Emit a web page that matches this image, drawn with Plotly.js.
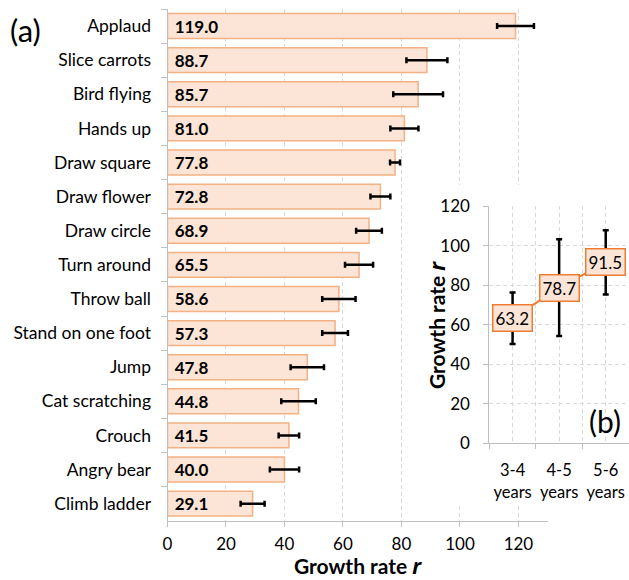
<!DOCTYPE html>
<html>
<head>
<meta charset="utf-8">
<script src="https://cdn.plot.ly/plotly-3.0.1.min.js"></script>
<style>
html,body{margin:0;padding:0;background:#fff;}
#chart{width:629px;height:580px;}
</style>
</head>
<body>
<div id="chart"></div>
<script>
// ---- data (panel a) ----
const tasks = ['Applaud','Slice carrots','Bird flying','Hands up','Draw square','Draw flower','Draw circle','Turn around','Throw ball','Stand on one foot','Jump','Cat scratching','Crouch','Angry bear','Climb ladder'];
const taskRates = [119.0, 88.7, 85.7, 81.0, 77.8, 72.8, 68.9, 65.5, 58.6, 57.3, 47.8, 44.8, 41.5, 40.0, 29.1];
const taskErrors = [6.3, 7.0, 8.5, 4.8, 1.7, 3.4, 4.4, 4.8, 5.7, 4.4, 5.7, 5.9, 3.5, 5.0, 4.1];
const mainTicks = [0, 20, 40, 60, 80, 100, 120];

// ---- data (panel b) ----
const ageGroups = ['3-4<br>years', '4-5<br>years', '5-6<br>years'];
const ageRates = [63.2, 78.7, 91.5];
const ageErrors = [13.0, 24.5, 16.3];
const insetTicks = [0, 20, 40, 60, 80, 100, 120];

const W = 629, H = 580;
const px = v => v / W;
const py = v => (H - v) / H;

const FONT = 'Lato, "Open Sans", sans-serif';
const GRID = '#d9d9d9';
const AXIS = '#bfbfbf';
const ageIdx = ageGroups.map((_, i) => i);
const TITLE = '<b>Growth rate <span style="font-family:\'Open Sans\';font-style:italic">r</span></b>';

const traces = [
  {
    type: 'bar', orientation: 'h',
    x: taskRates, y: tasks,
    width: 0.73,
    marker: {color: '#FCE4D6', line: {color: '#F4B183', width: 1.5}},
    texttemplate: '\u00a0%{x:.1f}',
    textposition: 'inside', insidetextanchor: 'start', textangle: 0,
    constraintext: 'none',
    insidetextfont: {family: FONT, size: 17, color: '#000', weight: 'bold'},
    error_x: {type: 'data', array: taskErrors, visible: true, color: '#000', thickness: 2.5, width: 3},
    hoverinfo: 'skip', showlegend: false, xaxis: 'x', yaxis: 'y'
  },
  {
    type: 'scatter', mode: 'none', x: [0.5], y: [0.5],
    xaxis: 'x2', yaxis: 'y2', hoverinfo: 'skip', showlegend: false
  },
  {
    type: 'scatter', mode: 'lines',
    x: ageIdx, y: ageRates,
    line: {color: '#ED7D31', width: 2},
    error_y: {type: 'data', array: ageErrors, visible: true, color: '#000', thickness: 2.5, width: 3},
    xaxis: 'x3', yaxis: 'y3', hoverinfo: 'skip', showlegend: false
  }
];

const annotations = ageRates.map((v, i) => ({
  xref: 'x3', yref: 'y3', x: ageIdx[i], y: v,
  text: v.toFixed(1), showarrow: false,
  bgcolor: '#FCE4D6', bordercolor: '#ED7D31', borderwidth: 1.5, borderpad: 2,
  font: {family: FONT, size: 17, color: '#000'}
}));
annotations.push({xref: 'paper', yref: 'paper', x: px(26), y: py(30), text: '(a)', showarrow: false,
  xanchor: 'center', yanchor: 'middle', font: {family: FONT, size: 31, color: '#000'}});
annotations.push({xref: 'paper', yref: 'paper', x: px(605), y: py(421), text: '(b)', showarrow: false,
  xanchor: 'center', yanchor: 'middle', font: {family: FONT, size: 30, color: '#000'}});
annotations.push({xref: 'paper', yref: 'paper', x: px(437), y: py(325), text: TITLE, showarrow: false,
  textangle: -90, xanchor: 'center', yanchor: 'middle', font: {family: FONT, size: 21, color: '#000'}});

const layout = {
  width: W, height: H,
  margin: {l: 0, r: 0, t: 0, b: 0},
  paper_bgcolor: '#fff', plot_bgcolor: '#fff',
  font: {family: FONT, size: 16, color: '#000'},
  showlegend: false,
  xaxis: {
    domain: [px(167.5), px(547.7)], anchor: 'y',
    range: [0, 130], tickmode: 'array', tickvals: mainTicks,
    ticks: 'outside', ticklen: 5, tickcolor: AXIS,
    showline: true, linecolor: AXIS, linewidth: 1,
    showgrid: true, gridcolor: GRID, griddash: '4px,3px',
    zeroline: false, automargin: false,
    ticklabelstandoff: 3,
    tickfont: {family: FONT, size: 17, color: '#000'},
    title: {text: TITLE, font: {family: FONT, size: 21, color: '#000'}, standoff: 12}
  },
  yaxis: {
    domain: [py(520.7), py(9)], anchor: 'x',
    type: 'category', autorange: 'reversed',
    tickson: 'boundaries', ticks: 'outside', ticklen: 6, tickcolor: AXIS,
    showline: true, linecolor: AXIS, linewidth: 1,
    showgrid: false, zeroline: false, automargin: false,
    ticklabelstandoff: 12,
    tickfont: {family: FONT, size: 17.5, color: '#000'}
  },
  xaxis2: {domain: [px(410), 1], anchor: 'y2', range: [0, 1], visible: false, fixedrange: true},
  yaxis2: {domain: [py(505), py(185)], anchor: 'x2', range: [0, 1], visible: false, fixedrange: true},
  xaxis3: {
    domain: [px(489.3), 1], anchor: 'y3',
    range: [-0.5, 2.5], tickmode: 'array', tickvals: ageIdx, ticktext: ageGroups,
    ticks: '', showline: true, linecolor: AXIS, linewidth: 1,
    showgrid: true, gridcolor: GRID, griddash: '4px,3px', zeroline: false,
    minor: {tickmode: 'linear', tick0: 0.5, dtick: 1, ticks: 'outside', ticklen: 5, tickcolor: AXIS,
            showgrid: true, gridcolor: GRID, griddash: '4px,3px'},
    automargin: false,
    ticklabelstandoff: 12,
    tickfont: {family: FONT, size: 16.5, color: '#000'}
  },
  yaxis3: {
    domain: [py(443.3), py(206)], anchor: 'x3',
    range: [0, 120], tickmode: 'array', tickvals: insetTicks,
    ticks: 'outside', ticklen: 5, tickcolor: AXIS,
    showline: true, linecolor: AXIS, linewidth: 1,
    showgrid: true, gridcolor: GRID, griddash: '4px,3px', zeroline: false,
    automargin: false,
    ticklabelstandoff: 10,
    tickfont: {family: FONT, size: 17, color: '#000'}
  },
  annotations: annotations
};

Plotly.newPlot('chart', traces, layout, {staticPlot: true, displayModeBar: false});
</script>
</body>
</html>
